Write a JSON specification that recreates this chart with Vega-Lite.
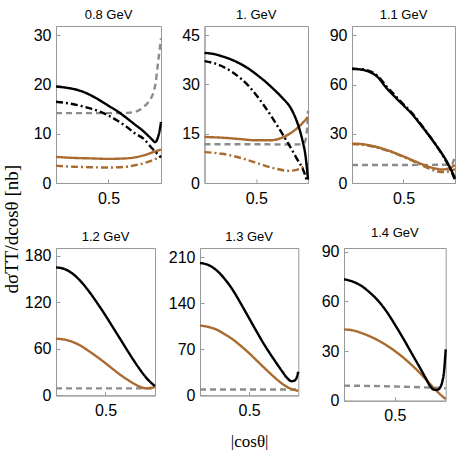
{
"$schema":"https://vega.github.io/schema/vega-lite/v6.json",
"padding":{"left":2,"top":8,"right":2,"bottom":0},
"title":{"text":"dσTT/dcosθ [nb]","orient":"left","anchor":"middle","font":"Liberation Serif","fontSize":19,"fontWeight":"normal","offset":2,"color":"#000"},
"spacing":19,
"vconcat":[
{"hconcat":[
{"width":105,"height":157,"title":"0.8 GeV",
"data":{"values":[
{"x":0.2,"y":14.2,"s":"g"},{"x":0.4,"y":14.2,"s":"g"},{"x":0.55,"y":14.2,"s":"g"},{"x":0.62,"y":14.3,"s":"g"},{"x":0.67,"y":14.7,"s":"g"},{"x":0.7,"y":15.4,"s":"g"},{"x":0.72,"y":16.1,"s":"g"},{"x":0.74,"y":17,"s":"g"},{"x":0.755,"y":18.2,"s":"g"},{"x":0.77,"y":20.5,"s":"g"},{"x":0.78,"y":23.5,"s":"g"},{"x":0.79,"y":26.5,"s":"g"},{"x":0.8,"y":29.4,"s":"g"},
{"x":0.2,"y":5.3,"s":"b"},{"x":0.3,"y":5.1,"s":"b"},{"x":0.4,"y":5.0,"s":"b"},{"x":0.5,"y":4.9,"s":"b"},{"x":0.6,"y":5.0,"s":"b"},{"x":0.65,"y":5.2,"s":"b"},{"x":0.7,"y":5.6,"s":"b"},{"x":0.75,"y":6.2,"s":"b"},{"x":0.8,"y":6.8,"s":"b"},
{"x":0.2,"y":3.5,"s":"bd"},{"x":0.3,"y":3.3,"s":"bd"},{"x":0.4,"y":3.2,"s":"bd"},{"x":0.5,"y":3.15,"s":"bd"},{"x":0.6,"y":3.3,"s":"bd"},{"x":0.65,"y":3.6,"s":"bd"},{"x":0.7,"y":4.0,"s":"bd"},{"x":0.75,"y":4.6,"s":"bd"},{"x":0.8,"y":5.4,"s":"bd"},
{"x":0.2,"y":19.6,"s":"k"},{"x":0.25,"y":19.4,"s":"k"},{"x":0.3,"y":19.1,"s":"k"},{"x":0.35,"y":18.6,"s":"k"},{"x":0.4,"y":17.8,"s":"k"},{"x":0.45,"y":16.8,"s":"k"},{"x":0.5,"y":15.7,"s":"k"},{"x":0.55,"y":14.6,"s":"k"},{"x":0.6,"y":13.3,"s":"k"},{"x":0.65,"y":11.9,"s":"k"},{"x":0.7,"y":10.5,"s":"k"},{"x":0.73,"y":9.5,"s":"k"},{"x":0.75,"y":8.8,"s":"k"},{"x":0.765,"y":8.3,"s":"k"},{"x":0.775,"y":8.6,"s":"k"},{"x":0.785,"y":9.6,"s":"k"},{"x":0.793,"y":10.8,"s":"k"},{"x":0.8,"y":12.4,"s":"k"},
{"x":0.2,"y":16.5,"s":"kd"},{"x":0.25,"y":16.3,"s":"kd"},{"x":0.3,"y":16.0,"s":"kd"},{"x":0.35,"y":15.6,"s":"kd"},{"x":0.4,"y":15.1,"s":"kd"},{"x":0.45,"y":14.5,"s":"kd"},{"x":0.5,"y":13.7,"s":"kd"},{"x":0.55,"y":12.7,"s":"kd"},{"x":0.6,"y":11.5,"s":"kd"},{"x":0.65,"y":10.1,"s":"kd"},{"x":0.7,"y":9.0,"s":"kd"},{"x":0.75,"y":7.0,"s":"kd"},{"x":0.8,"y":5.2,"s":"kd"}
]},
"mark":{"type":"line","strokeWidth":2.4,"interpolate":"monotone"},
"encoding":{
"x":{"field":"x","type":"quantitative","scale":{"domain":[0.2,0.8],"nice":false,"zero":false},"axis":{"values":[0.5],"title":null}},
"y":{"field":"y","type":"quantitative","scale":{"domain":[0,31.9],"nice":false},"axis":{"values":[0,10,20,30],"title":null}},
"color":{"field":"s","type":"nominal","scale":{"domain":["g","b","bd","k","kd"],"range":["#8c8c8c","#a96b2f","#a96b2f","#000000","#000000"]},"legend":null},
"strokeDash":{"field":"s","type":"nominal","scale":{"domain":["g","b","bd","k","kd"],"range":[[6,4],[1,0],[7,3,2,3],[1,0],[7,3,2,3]]},"legend":null}
}},
{"width":103.5,"height":157,"title":"1. GeV",
"data":{"values":[
{"x":0.2,"y":11.8,"s":"g"},{"x":0.5,"y":11.8,"s":"g"},{"x":0.7,"y":11.7,"s":"g"},{"x":0.77,"y":11.8,"s":"g"},{"x":0.785,"y":13,"s":"g"},{"x":0.795,"y":17,"s":"g"},{"x":0.8,"y":22,"s":"g"},
{"x":0.2,"y":14.0,"s":"b"},{"x":0.3,"y":13.8,"s":"b"},{"x":0.4,"y":13.4,"s":"b"},{"x":0.5,"y":13.0,"s":"b"},{"x":0.58,"y":13.0,"s":"b"},{"x":0.65,"y":13.8,"s":"b"},{"x":0.7,"y":15.2,"s":"b"},{"x":0.75,"y":17.3,"s":"b"},{"x":0.8,"y":20.1,"s":"b"},
{"x":0.2,"y":9.4,"s":"bd"},{"x":0.3,"y":8.9,"s":"bd"},{"x":0.36,"y":8.3,"s":"bd"},{"x":0.45,"y":7.0,"s":"bd"},{"x":0.52,"y":5.8,"s":"bd"},{"x":0.61,"y":4.4,"s":"bd"},{"x":0.69,"y":3.7,"s":"bd"},{"x":0.75,"y":4.3,"s":"bd"},{"x":0.8,"y":5.9,"s":"bd"},
{"x":0.2,"y":39.6,"s":"k"},{"x":0.25,"y":39.3,"s":"k"},{"x":0.3,"y":38.6,"s":"k"},{"x":0.35,"y":37.7,"s":"k"},{"x":0.4,"y":36.5,"s":"k"},{"x":0.45,"y":35.0,"s":"k"},{"x":0.5,"y":33.1,"s":"k"},{"x":0.55,"y":31.0,"s":"k"},{"x":0.6,"y":28.6,"s":"k"},{"x":0.65,"y":26.0,"s":"k"},{"x":0.7,"y":22.8,"s":"k"},{"x":0.73,"y":19.5,"s":"k"},{"x":0.75,"y":16.5,"s":"k"},{"x":0.77,"y":12.5,"s":"k"},{"x":0.785,"y":8.5,"s":"k"},{"x":0.8,"y":1,"s":"k"},
{"x":0.2,"y":37.1,"s":"kd"},{"x":0.26,"y":36.4,"s":"kd"},{"x":0.36,"y":33.8,"s":"kd"},{"x":0.46,"y":29.3,"s":"kd"},{"x":0.55,"y":23.2,"s":"kd"},{"x":0.65,"y":15.1,"s":"kd"},{"x":0.73,"y":7.9,"s":"kd"},{"x":0.78,"y":2.9,"s":"kd"},{"x":0.795,"y":0.3,"s":"kd"}
]},
"mark":{"type":"line","strokeWidth":2.4,"interpolate":"monotone"},
"encoding":{
"x":{"field":"x","type":"quantitative","scale":{"domain":[0.2,0.8],"nice":false,"zero":false},"axis":{"values":[0.5],"title":null}},
"y":{"field":"y","type":"quantitative","scale":{"domain":[0,47.8],"nice":false},"axis":{"values":[0,15,30,45],"title":null}},
"color":{"field":"s","type":"nominal","scale":{"domain":["g","b","bd","k","kd"],"range":["#8c8c8c","#a96b2f","#a96b2f","#000000","#000000"]},"legend":null},
"strokeDash":{"field":"s","type":"nominal","scale":{"domain":["g","b","bd","k","kd"],"range":[[6,4],[1,0],[7,3,2,3],[1,0],[7,3,2,3]]},"legend":null}
}},
{"width":103,"height":157,"title":"1.1 GeV",
"data":{"values":[
{"x":0.2,"y":11,"s":"g"},{"x":0.5,"y":11,"s":"g"},{"x":0.78,"y":11.2,"s":"g"},{"x":0.79,"y":13,"s":"g"},{"x":0.8,"y":17,"s":"g"},
{"x":0.2,"y":24,"s":"b"},{"x":0.25,"y":23.8,"s":"b"},{"x":0.3,"y":23,"s":"b"},{"x":0.35,"y":21.8,"s":"b"},{"x":0.4,"y":20.2,"s":"b"},{"x":0.45,"y":18.3,"s":"b"},{"x":0.5,"y":16.2,"s":"b"},{"x":0.55,"y":14,"s":"b"},{"x":0.6,"y":11.8,"s":"b"},{"x":0.65,"y":9.8,"s":"b"},{"x":0.7,"y":8.5,"s":"b"},{"x":0.73,"y":8.2,"s":"b"},{"x":0.76,"y":8.8,"s":"b"},{"x":0.8,"y":11,"s":"b"},
{"x":0.2,"y":23.7,"s":"bd"},{"x":0.3,"y":22.7,"s":"bd"},{"x":0.4,"y":19.9,"s":"bd"},{"x":0.5,"y":15.9,"s":"bd"},{"x":0.6,"y":11.2,"s":"bd"},{"x":0.65,"y":8.8,"s":"bd"},{"x":0.7,"y":7.0,"s":"bd"},{"x":0.73,"y":6.6,"s":"bd"},{"x":0.76,"y":7,"s":"bd"},{"x":0.8,"y":8.5,"s":"bd"},
{"x":0.2,"y":69.7,"s":"k"},{"x":0.25,"y":69.2,"s":"k"},{"x":0.3,"y":67.8,"s":"k"},{"x":0.35,"y":64.5,"s":"k"},{"x":0.4,"y":58,"s":"k"},{"x":0.45,"y":52.5,"s":"k"},{"x":0.5,"y":47.3,"s":"k"},{"x":0.55,"y":42,"s":"k"},{"x":0.6,"y":35.5,"s":"k"},{"x":0.65,"y":28.7,"s":"k"},{"x":0.7,"y":21.5,"s":"k"},{"x":0.75,"y":13.5,"s":"k"},{"x":0.8,"y":3,"s":"k"},
{"x":0.2,"y":69.5,"s":"kd"},{"x":0.25,"y":69.4,"s":"kd"},{"x":0.3,"y":68.3,"s":"kd"},{"x":0.35,"y":65.2,"s":"kd"},{"x":0.4,"y":59,"s":"kd"},{"x":0.45,"y":53.4,"s":"kd"},{"x":0.5,"y":48,"s":"kd"},{"x":0.55,"y":42.6,"s":"kd"},{"x":0.6,"y":36,"s":"kd"},{"x":0.65,"y":29,"s":"kd"},{"x":0.7,"y":21.5,"s":"kd"},{"x":0.75,"y":13,"s":"kd"},{"x":0.8,"y":2,"s":"kd"}
]},
"mark":{"type":"line","strokeWidth":2.4,"interpolate":"monotone"},
"encoding":{
"x":{"field":"x","type":"quantitative","scale":{"domain":[0.2,0.8],"nice":false,"zero":false},"axis":{"values":[0.5],"title":null}},
"y":{"field":"y","type":"quantitative","scale":{"domain":[0,95.7],"nice":false},"axis":{"values":[0,30,60,90],"title":null}},
"color":{"field":"s","type":"nominal","scale":{"domain":["g","b","bd","k","kd"],"range":["#8c8c8c","#a96b2f","#a96b2f","#000000","#000000"]},"legend":null},
"strokeDash":{"field":"s","type":"nominal","scale":{"domain":["g","b","bd","k","kd"],"range":[[6,4],[1,0],[7,3,2,3],[1,0],[7,3,2,3]]},"legend":null}
}}
],"spacing":43.5,"bounds":"flush"},
{"hconcat":[
{"width":99,"height":147.4,"title":"1.2 GeV",
"data":{"values":[
{"x":0.2,"y":9,"s":"g"},{"x":0.5,"y":9,"s":"g"},{"x":0.8,"y":9,"s":"g"},
{"x":0.2,"y":73,"s":"b"},{"x":0.25,"y":72,"s":"b"},{"x":0.3,"y":69,"s":"b"},{"x":0.35,"y":64,"s":"b"},{"x":0.4,"y":57,"s":"b"},{"x":0.45,"y":49.5,"s":"b"},{"x":0.5,"y":41.5,"s":"b"},{"x":0.55,"y":33,"s":"b"},{"x":0.6,"y":25,"s":"b"},{"x":0.65,"y":18,"s":"b"},{"x":0.7,"y":12,"s":"b"},{"x":0.75,"y":9,"s":"b"},{"x":0.8,"y":11,"s":"b"},
{"x":0.2,"y":165,"s":"k"},{"x":0.25,"y":163,"s":"k"},{"x":0.3,"y":157,"s":"k"},{"x":0.35,"y":147,"s":"k"},{"x":0.4,"y":134,"s":"k"},{"x":0.45,"y":119,"s":"k"},{"x":0.5,"y":103,"s":"k"},{"x":0.55,"y":86,"s":"k"},{"x":0.6,"y":69,"s":"k"},{"x":0.65,"y":52,"s":"k"},{"x":0.7,"y":36,"s":"k"},{"x":0.75,"y":22,"s":"k"},{"x":0.8,"y":12,"s":"k"}
]},
"mark":{"type":"line","strokeWidth":2.4,"interpolate":"monotone"},
"encoding":{
"x":{"field":"x","type":"quantitative","scale":{"domain":[0.2,0.8],"nice":false,"zero":false},"axis":{"values":[0.5],"title":null}},
"y":{"field":"y","type":"quantitative","scale":{"domain":[0,190],"nice":false},"axis":{"values":[0,60,120,180],"title":null}},
"color":{"field":"s","type":"nominal","scale":{"domain":["g","b","bd","k","kd"],"range":["#8c8c8c","#a96b2f","#a96b2f","#000000","#000000"]},"legend":null},
"strokeDash":{"field":"s","type":"nominal","scale":{"domain":["g","b","bd","k","kd"],"range":[[6,4],[1,0],[7,3,2,3],[1,0],[7,3,2,3]]},"legend":null}
}},
{"width":98.3,"height":147.4,"title":"1.3 GeV",
"data":{"values":[
{"x":0.2,"y":9,"s":"g"},{"x":0.5,"y":9,"s":"g"},{"x":0.8,"y":9,"s":"g"},
{"x":0.2,"y":106,"s":"b"},{"x":0.25,"y":104,"s":"b"},{"x":0.3,"y":100,"s":"b"},{"x":0.35,"y":93,"s":"b"},{"x":0.4,"y":85,"s":"b"},{"x":0.45,"y":75,"s":"b"},{"x":0.5,"y":64,"s":"b"},{"x":0.55,"y":52,"s":"b"},{"x":0.6,"y":40,"s":"b"},{"x":0.65,"y":28.5,"s":"b"},{"x":0.7,"y":18,"s":"b"},{"x":0.75,"y":10.5,"s":"b"},{"x":0.8,"y":7,"s":"b"},
{"x":0.2,"y":201,"s":"k"},{"x":0.25,"y":198,"s":"k"},{"x":0.3,"y":190,"s":"k"},{"x":0.35,"y":177,"s":"k"},{"x":0.4,"y":160,"s":"k"},{"x":0.45,"y":139,"s":"k"},{"x":0.5,"y":117,"s":"k"},{"x":0.55,"y":95,"s":"k"},{"x":0.6,"y":74,"s":"k"},{"x":0.65,"y":55,"s":"k"},{"x":0.7,"y":37,"s":"k"},{"x":0.73,"y":27,"s":"k"},{"x":0.76,"y":21.5,"s":"k"},{"x":0.78,"y":23,"s":"k"},{"x":0.79,"y":27,"s":"k"},{"x":0.8,"y":36,"s":"k"}
]},
"mark":{"type":"line","strokeWidth":2.4,"interpolate":"monotone"},
"encoding":{
"x":{"field":"x","type":"quantitative","scale":{"domain":[0.2,0.8],"nice":false,"zero":false},"axis":{"values":[0.5],"title":"|cosθ|","titleFont":"Liberation Serif","titleFontSize":17,"titleFontWeight":"normal","titlePadding":15}},
"y":{"field":"y","type":"quantitative","scale":{"domain":[0,223.7],"nice":false},"axis":{"values":[0,70,140,210],"title":null}},
"color":{"field":"s","type":"nominal","scale":{"domain":["g","b","bd","k","kd"],"range":["#8c8c8c","#a96b2f","#a96b2f","#000000","#000000"]},"legend":null},
"strokeDash":{"field":"s","type":"nominal","scale":{"domain":["g","b","bd","k","kd"],"range":[[6,4],[1,0],[7,3,2,3],[1,0],[7,3,2,3]]},"legend":null}
}},
{"width":101.7,"height":152.7,"title":"1.4 GeV",
"data":{"values":[
{"x":0.2,"y":9.1,"s":"g"},{"x":0.5,"y":8.6,"s":"g"},{"x":0.8,"y":7.5,"s":"g"},
{"x":0.2,"y":43,"s":"b"},{"x":0.25,"y":42.5,"s":"b"},{"x":0.3,"y":41,"s":"b"},{"x":0.35,"y":39,"s":"b"},{"x":0.4,"y":36.5,"s":"b"},{"x":0.45,"y":33.5,"s":"b"},{"x":0.5,"y":30,"s":"b"},{"x":0.55,"y":26,"s":"b"},{"x":0.6,"y":21.5,"s":"b"},{"x":0.65,"y":16.5,"s":"b"},{"x":0.7,"y":11,"s":"b"},{"x":0.75,"y":5.5,"s":"b"},{"x":0.8,"y":1,"s":"b"},
{"x":0.2,"y":73.3,"s":"k"},{"x":0.25,"y":72,"s":"k"},{"x":0.3,"y":69.5,"s":"k"},{"x":0.35,"y":65.5,"s":"k"},{"x":0.4,"y":60.5,"s":"k"},{"x":0.45,"y":54,"s":"k"},{"x":0.5,"y":46,"s":"k"},{"x":0.55,"y":37.5,"s":"k"},{"x":0.6,"y":28.5,"s":"k"},{"x":0.65,"y":19.5,"s":"k"},{"x":0.68,"y":14,"s":"k"},{"x":0.71,"y":8.5,"s":"k"},{"x":0.73,"y":6.7,"s":"k"},{"x":0.75,"y":6.5,"s":"k"},{"x":0.77,"y":8.5,"s":"k"},{"x":0.78,"y":11.5,"s":"k"},{"x":0.79,"y":17.5,"s":"k"},{"x":0.8,"y":31,"s":"k"}
]},
"mark":{"type":"line","strokeWidth":2.4,"interpolate":"monotone"},
"encoding":{
"x":{"field":"x","type":"quantitative","scale":{"domain":[0.2,0.8],"nice":false,"zero":false},"axis":{"values":[0.5],"title":null}},
"y":{"field":"y","type":"quantitative","scale":{"domain":[0,92.2],"nice":false},"axis":{"values":[0,30,60,90],"title":null}},
"color":{"field":"s","type":"nominal","scale":{"domain":["g","b","bd","k","kd"],"range":["#8c8c8c","#a96b2f","#a96b2f","#000000","#000000"]},"legend":null},
"strokeDash":{"field":"s","type":"nominal","scale":{"domain":["g","b","bd","k","kd"],"range":[[6,4],[1,0],[7,3,2,3],[1,0],[7,3,2,3]]},"legend":null}
}}
],"spacing":45,"bounds":"flush"}
],
"config":{
"view":{"stroke":"#999999","strokeWidth":1},
"axis":{"domainColor":"#999999","tickColor":"#999999","tickSize":-4,"labelFont":"Liberation Sans","labelFontSize":16,"labelColor":"#000000","grid":false,"labelOverlap":false,"labelFlush":false},
"axisX":{"labelPadding":11},
"axisY":{"labelPadding":9},
"title":{"font":"Liberation Sans","fontSize":13,"fontWeight":"normal","offset":4,"color":"#000000"}
}
}
